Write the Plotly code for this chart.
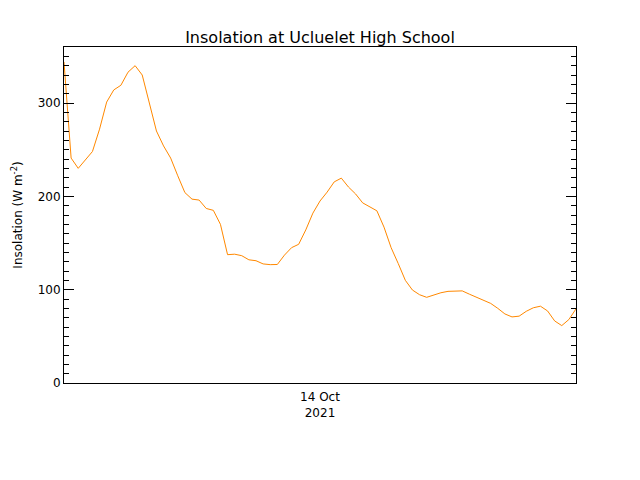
import pandas as pd
import plotly.graph_objects as go

# 20-minute samples from 13 Oct 2021 12:00 to 14 Oct 2021 12:00
start_time = "2021-10-13 12:00"
step = "20min"
insolation = [
    344, 241, 230, 239, 248, 272, 301, 314, 319, 333,
    340, 330, 300, 270, 254, 241, 222, 204, 197, 196,
    187, 185, 170, 137.5, 138, 136.4, 132, 131, 127.6, 126.8,
    127, 137, 145, 148.6, 164, 182, 195, 204.5, 215.5, 219.5,
    210, 202.6, 193, 189, 184.5, 167, 145, 128, 110, 99.6,
    94.6, 91.8, 94.2, 96.7, 98.2, 98.6, 98.7, 95.2, 91.7, 89,
    85.3, 80, 74, 70.8, 71.6, 76.8, 80.6, 82.3, 77.2, 66.5,
    61.5, 68, 79.4,
]
times = pd.date_range(start_time, periods=len(insolation), freq=step)

x_tick_vals = ["2021-10-14 00:00"]
x_tick_text = ["14 Oct<br>2021"]
y_tick_vals = [0, 100, 200, 300]

title_text = "Insolation at Ucluelet High School"
y_title = "Insolation (W m<sup>-2</sup>)"

font_family = "DejaVu Sans"

# the page body adds an 8px offset, so the figure is sized to compensate
fig_w, fig_h = 632, 472

fig = go.Figure()
fig.add_trace(go.Scatter(
    x=times, y=insolation, mode="lines",
    line=dict(color="#ff8800", width=1),
    showlegend=False,
))

fig.update_layout(
    width=fig_w, height=fig_h,
    paper_bgcolor="white", plot_bgcolor="white",
    margin=dict(l=56, r=64, t=39, b=97, autoexpand=False),
    font=dict(family=font_family, color="black", size=12),
    title=dict(text=title_text, x=(56 + 256) / fig_w, xanchor="center",
               y=1 - 29 / fig_h, yanchor="middle",
               font=dict(size=16, family=font_family, color="black")),
)

fig.update_xaxes(
    range=[times[0], times[-1]],
    tickmode="array", tickvals=x_tick_vals, ticktext=x_tick_text,
    ticks="", showgrid=False, zeroline=False,
    showline=True, linecolor="black", linewidth=1, mirror=True,
    tickfont=dict(size=12, family=font_family),
    ticklabelstandoff=3,
)

fig.update_yaxes(
    range=[0, 360],
    tickmode="array", tickvals=y_tick_vals,
    ticks="inside", ticklen=10, tickwidth=1, tickcolor="black",
    minor=dict(dtick=10, ticks="inside", ticklen=5, tickwidth=1,
               tickcolor="black", showgrid=False),
    showgrid=False, zeroline=False,
    showline=True, linecolor="black", linewidth=1, mirror="ticks",
    tickfont=dict(size=12, family=font_family),
    title=dict(text=y_title, font=dict(size=12, family=font_family), standoff=12),
)

fig.write_html("out.html")
